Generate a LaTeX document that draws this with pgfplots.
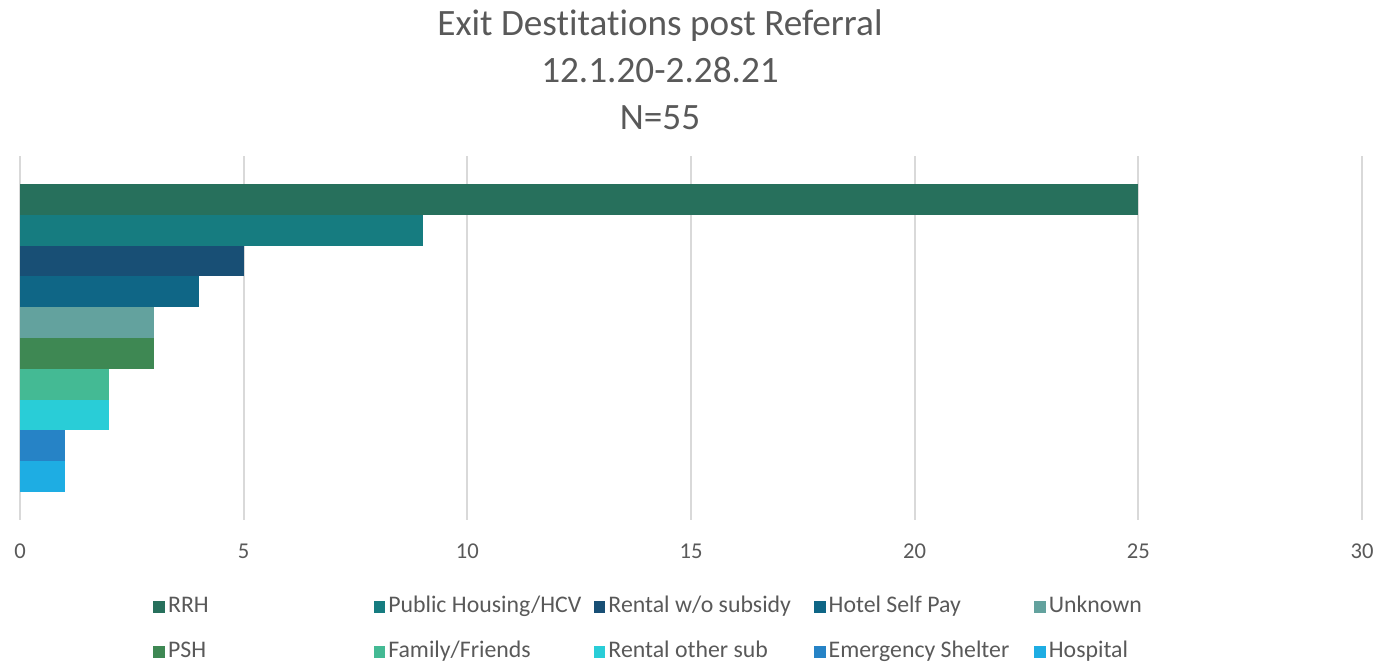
\documentclass[border=0pt]{standalone}
\usepackage{pgfplots}
\pgfplotsset{compat=1.18}
\usepackage{fontspec}
\setmainfont{Carlito}[Ligatures={NoCommon}]
\definecolor{txt}{HTML}{595959}
\definecolor{grd}{HTML}{D9D9D9}
\definecolor{c1}{HTML}{27705C}
\definecolor{c2}{HTML}{167C80}
\definecolor{c3}{HTML}{184F75}
\definecolor{c4}{HTML}{0F6686}
\definecolor{c5}{HTML}{63A29E}
\definecolor{c6}{HTML}{3E8853}
\definecolor{c7}{HTML}{44BA94}
\definecolor{c8}{HTML}{29CDD7}
\definecolor{c9}{HTML}{2683C6}
\definecolor{c10}{HTML}{1EADE3}
\newcommand{\lentry}[1]{\makebox[101.3pt][l]{#1}}
\begin{document}
\begin{tikzpicture}
\path[use as bounding box] (-10pt,-72pt) rectangle (680pt,260pt);
\begin{axis}[
  at={(0,0)}, anchor=south west,
  scale only axis, width=671pt, height=182pt,
  xmin=0, xmax=30, ymin=-0.91, ymax=10.91, y dir=reverse,
  xbar, bar shift=0pt, bar width=1,
  xtick={0,5,...,30}, ytick=\empty,
  xmajorgrids, grid style={grd, line width=0.9pt},
  axis line style={draw=none}, major tick length=0pt,
  tick label style={font=\fontsize{11.3}{13}\selectfont, text=txt},
  /pgf/number format/assume math mode=true,
  xticklabel style={yshift=-8.5pt},
  legend columns=5,
  legend cell align=left,
  legend style={draw=none, fill=none, at={(0.0947,-0.19)}, anchor=north west,
    font=\fontsize{11.9}{13}\selectfont, text=txt,
    /tikz/column sep=0pt, /tikz/row sep=9pt,
    nodes={inner sep=1.5pt, text height=8pt, text depth=2.5pt}},
  legend image code/.code={\fill[#1] (0pt,-2.9pt) rectangle (5.8pt,2.9pt);},
]
\addplot[fill=c1, draw=none] coordinates {(25,0.5)}; \addlegendentry{\lentry{RRH}}
\addplot[fill=c2, draw=none] coordinates {(9,1.5)}; \addlegendentry{\lentry{Public Housing/HCV}}
\addplot[fill=c3, draw=none] coordinates {(5,2.5)}; \addlegendentry{\lentry{Rental w/o subsidy}}
\addplot[fill=c4, draw=none] coordinates {(4,3.5)}; \addlegendentry{\lentry{Hotel Self Pay}}
\addplot[fill=c5, draw=none] coordinates {(3,4.5)}; \addlegendentry{\lentry{Unknown}}
\addplot[fill=c6, draw=none] coordinates {(3,5.5)}; \addlegendentry{\lentry{PSH}}
\addplot[fill=c7, draw=none] coordinates {(2,6.5)}; \addlegendentry{\lentry{Family/Friends}}
\addplot[fill=c8, draw=none] coordinates {(2,7.5)}; \addlegendentry{\lentry{Rental other sub}}
\addplot[fill=c9, draw=none] coordinates {(1,8.5)}; \addlegendentry{\lentry{Emergency Shelter}}
\addplot[fill=c10, draw=none] coordinates {(1,9.5)}; \addlegendentry{\lentry{Hospital}}
\end{axis}
\node[align=center, text=txt, font=\fontsize{18.6}{23.5}\selectfont] at (320pt,225.25pt)
  {Exit Destitations post Referral\\12.1.20-2.28.21\\N=55};
\end{tikzpicture}
\end{document}
